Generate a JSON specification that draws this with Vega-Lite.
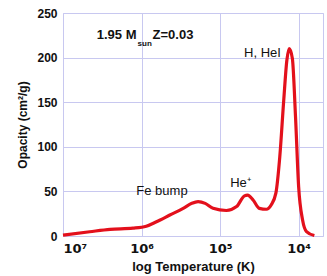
{
  "$schema": "https://vega.github.io/schema/vega-lite/v6.json",
  "width": 260,
  "height": 223,
  "autosize": "none",
  "padding": {"left": 63, "top": 13, "right": 4, "bottom": 40},
  "config": {
    "font": "Liberation Sans",
    "view": {"stroke": "#c8c8f0", "strokeWidth": 1},
    "axis": {"gridColor": "#c8c8f0", "gridOpacity": 1, "domain": false, "ticks": false, "labelFont": "Liberation Sans", "labelFontWeight": "bold", "labelFontSize": 12, "labelColor": "#111", "titleFont": "Liberation Sans", "titleFontWeight": "bold", "titleFontSize": 13, "titleColor": "#111"}
  },
  "datasets": {
    "curve": [
      {"logT": 7.0, "opacity": 1},
      {"logT": 6.66, "opacity": 4.8},
      {"logT": 6.4, "opacity": 7.5},
      {"logT": 6.11, "opacity": 8.8},
      {"logT": 5.94, "opacity": 11},
      {"logT": 5.81, "opacity": 16},
      {"logT": 5.64, "opacity": 23.5},
      {"logT": 5.47, "opacity": 31},
      {"logT": 5.36, "opacity": 36.6},
      {"logT": 5.28, "opacity": 38.5},
      {"logT": 5.19, "opacity": 36.6},
      {"logT": 5.09, "opacity": 31},
      {"logT": 4.92, "opacity": 28.6},
      {"logT": 4.79, "opacity": 33},
      {"logT": 4.69, "opacity": 45},
      {"logT": 4.65, "opacity": 45.8},
      {"logT": 4.58, "opacity": 40.4},
      {"logT": 4.5, "opacity": 31},
      {"logT": 4.41, "opacity": 30},
      {"logT": 4.35, "opacity": 34.8},
      {"logT": 4.29, "opacity": 48},
      {"logT": 4.24, "opacity": 89},
      {"logT": 4.19, "opacity": 152},
      {"logT": 4.15, "opacity": 197},
      {"logT": 4.12, "opacity": 210},
      {"logT": 4.08, "opacity": 199},
      {"logT": 4.04, "opacity": 134},
      {"logT": 4.0, "opacity": 55},
      {"logT": 3.95, "opacity": 18},
      {"logT": 3.9, "opacity": 5},
      {"logT": 3.8, "opacity": 0.5}
    ],
    "bold": [
      {"logT": 6.57, "opacity": 225, "label": "1.95 M"},
      {"logT": 5.86, "opacity": 225, "label": "Z=0.03"}
    ],
    "sub": [
      {"logT": 6.05, "opacity": 215, "label": "sun"}
    ],
    "notes": [
      {"logT": 4.46, "opacity": 205, "label": "H, HeI"},
      {"logT": 4.74, "opacity": 59, "label": "He⁺"},
      {"logT": 5.74, "opacity": 51, "label": "Fe bump"}
    ]
  },
  "encoding": {
    "x": {"field": "logT", "type": "quantitative", "scale": {"domain": [7, 3.69], "nice": false, "zero": false},
      "axis": {"values": [7, 6, 5, 4], "labelExpr": "'10' + (datum.value == 7 ? '⁷' : datum.value == 6 ? '⁶' : datum.value == 5 ? '⁵' : '⁴')", "title": "log Temperature (K)", "labelPadding": 6, "titlePadding": 5, "labelFontSize": 13, "labelFont": "DejaVu Sans"}},
    "y": {"field": "opacity", "type": "quantitative", "scale": {"domain": [0, 250], "nice": false},
      "axis": {"values": [0, 50, 100, 150, 200, 250], "title": "Opacity (cm²/g)", "titleFontSize": 12, "labelPadding": 6, "titlePadding": 7}}
  },
  "layer": [
    {"data": {"name": "curve"}, "mark": {"type": "line", "color": "#e3101c", "strokeWidth": 3.2, "interpolate": "monotone"}},
    {"data": {"name": "bold"}, "mark": {"type": "text", "align": "left", "baseline": "middle", "fontWeight": "bold", "fontSize": 13, "color": "#111"}, "encoding": {"text": {"field": "label"}}},
    {"data": {"name": "sub"}, "mark": {"type": "text", "align": "left", "baseline": "middle", "fontWeight": "bold", "fontSize": 8, "color": "#111"}, "encoding": {"text": {"field": "label"}}},
    {"data": {"name": "notes"}, "mark": {"type": "text", "align": "center", "baseline": "middle", "fontSize": 13, "color": "#111"}, "encoding": {"text": {"field": "label"}}}
  ]
}
